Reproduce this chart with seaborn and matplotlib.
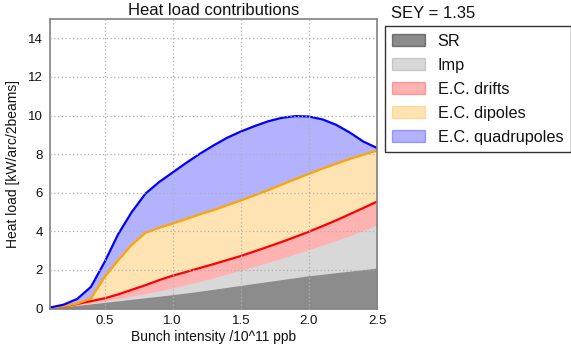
import numpy as np
import matplotlib
matplotlib.use("Agg")
import matplotlib.pyplot as plt
from matplotlib.patches import Patch
import seaborn as sns

# Bunch intensity [1e11 p/bunch]
intensity = [0.1, 0.2, 0.3, 0.4, 0.5, 0.6, 0.7, 0.8, 0.9, 1.0, 1.1, 1.2, 1.3,
             1.4, 1.5, 1.6, 1.7, 1.8, 1.9, 2.0, 2.1, 2.2, 2.3, 2.4, 2.5]

# Heat load contributions [kW/arc/2beams]
sr = [0.03, 0.10, 0.17, 0.24, 0.32, 0.40, 0.48, 0.56, 0.64, 0.72, 0.81, 0.90, 1.00,
      1.10, 1.20, 1.30, 1.40, 1.50, 1.60, 1.70, 1.78, 1.86, 1.94, 2.02, 2.10]
imp = [0.00, 0.01, 0.02, 0.04, 0.07, 0.11, 0.16, 0.21, 0.27, 0.34, 0.42, 0.50, 0.59,
       0.68, 0.78, 0.88, 0.99, 1.10, 1.22, 1.35, 1.50, 1.66, 1.83, 2.02, 2.22]
ec_drifts = [0.01, 0.01, 0.05, 0.10, 0.14, 0.22, 0.33, 0.44, 0.56, 0.64, 0.67, 0.70, 0.71,
             0.73, 0.74, 0.78, 0.81, 0.85, 0.89, 0.93, 0.99, 1.05, 1.12, 1.17, 1.22]
ec_dipoles = [0.00, 0.01, 0.02, 0.14, 1.10, 1.77, 2.33, 2.71, 2.71, 2.70, 2.74, 2.78, 2.80,
              2.84, 2.88, 2.90, 2.93, 2.97, 2.99, 3.00, 2.98, 2.93, 2.86, 2.76, 2.64]
ec_quads = [0.01, 0.07, 0.24, 0.60, 0.77, 1.35, 1.70, 2.03, 2.37, 2.65, 2.91, 3.14, 3.35,
            3.50, 3.57, 3.59, 3.57, 3.46, 3.27, 2.97, 2.55, 2.02, 1.37, 0.68, 0.14]

labels = ["SR", "Imp", "E.C. drifts", "E.C. dipoles", "E.C. quadrupoles"]
x_ticks = [0.5, 1.0, 1.5, 2.0, 2.5]
y_ticks = [0, 2, 4, 6, 8, 10, 12, 14]
sey_label = "SEY = 1.35"

sns.set_theme(style="white")
plt.rcParams["font.family"] = ["Liberation Sans", "DejaVu Sans"]

fig = plt.figure(figsize=(5.71, 3.53), dpi=100)
ax = fig.add_axes([0.0876, 0.126, 0.5727, 0.820])

x = np.array(intensity)
layers = np.cumsum(np.vstack([sr, imp, ec_drifts, ec_dipoles, ec_quads]), axis=0)

fills = [("k", 0.5), ("k", 0.17), ("red", 0.3), ("orange", 0.3), ("blue", 0.3)]
lower = np.zeros_like(x)
for top, (col, a) in zip(layers, fills):
    ax.fill_between(x, lower, top, color=col, alpha=a, lw=0)
    lower = top

# outline the electron-cloud layers
for top, col in zip(layers[2:], ["red", "orange", "blue"]):
    sns.lineplot(x=x, y=top, color=col, lw=1.6, ax=ax)

ax.set_xlim(0.1, 2.5)
ax.set_ylim(0, 15)
ax.set_xticks(x_ticks)
ax.set_xticklabels([f"{t:.1f}" for t in x_ticks])
ax.set_yticks(y_ticks)
ax.grid(True, ls=(0, (1, 2)), color="#b0b0b0", lw=0.9)
ax.set_axisbelow(False)
for s in ax.spines.values():
    s.set_color("#808080")
    s.set_linewidth(1.2)
ax.tick_params(axis="both", direction="in", length=3, color="#808080",
               labelsize=9.5, pad=5, labelcolor="#111111")

ax.set_xlabel("Bunch intensity /10^11 ppb", fontsize=10, labelpad=2, color="#111111")
ax.set_ylabel("Heat load [kW/arc/2beams]", fontsize=10, labelpad=6, color="#111111")
ax.set_title("Heat load contributions", fontsize=12, pad=3, color="#111111")

handles = [Patch(facecolor=c, alpha=a, edgecolor=c) for c, a in fills]
leg = fig.legend(handles, labels, loc="upper left",
                 bbox_to_anchor=(0.674, 0.925), fontsize=11.7, frameon=True,
                 fancybox=False, edgecolor="black", handlelength=2.0,
                 handleheight=0.75, handletextpad=0.8, labelspacing=0.55,
                 borderpad=0.45, borderaxespad=0)
leg.get_frame().set_linewidth(1.0)
for t in leg.get_texts():
    t.set_color("#111111")

fig.text(0.685, 0.963, sey_label, fontsize=12, va="center", ha="left", color="#111111")

fig.savefig("out.png", dpi=100)
